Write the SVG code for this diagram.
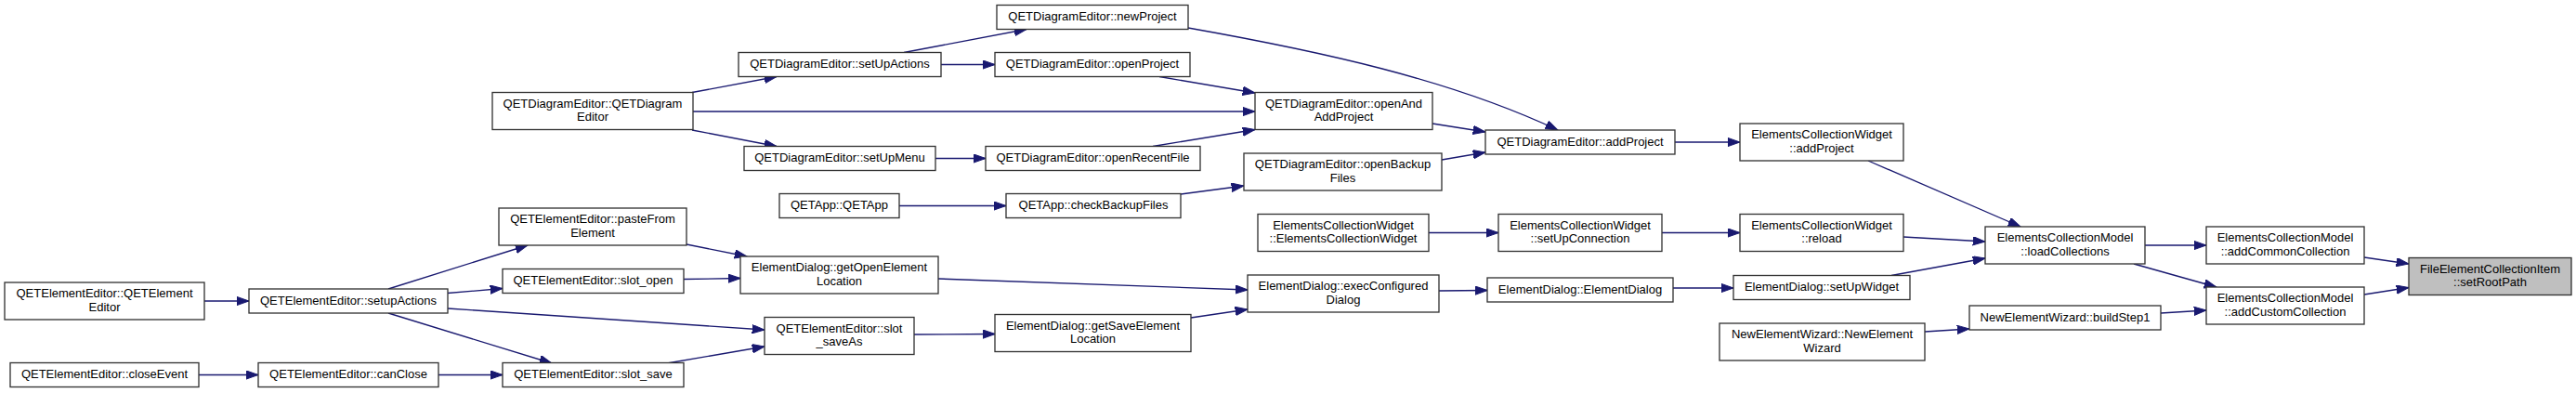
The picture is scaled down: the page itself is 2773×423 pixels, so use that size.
<svg xmlns="http://www.w3.org/2000/svg" width="2773" height="423" viewBox="0 0 2773 423">
<style>
.n rect{fill:#fff;stroke:#333;stroke-width:1.33}
.root rect{fill:#bfbfbf}
.n text{font-family:"Liberation Sans",Arial,sans-serif;font-size:13px;fill:#000;text-anchor:middle}
.e path{fill:none;stroke:#191970;stroke-width:1.33;marker-end:url(#arr)}
</style>
<defs>
<marker id="arr" markerUnits="userSpaceOnUse" markerWidth="14" markerHeight="10" refX="13.3" refY="4.7" orient="auto" viewBox="0 0 14 10">
<path d="M0,0 L13.3,4.7 L0,9.4 z" fill="#191970" stroke="#191970" stroke-width="1"/>
</marker>
</defs>
<rect width="2773" height="423" fill="#fff"/>
<g id="connectors" class="e">
<path d="M745,99.5 L836,82.5"/>
<path d="M745,140 L836,157.5"/>
<path d="M746,120 L1351,120"/>
<path d="M973,56.5 L1105,31.5"/>
<path d="M1013,69.5 L1071,69.5"/>
<path d="M1007,170.5 L1061,170.5"/>
<path d="M1279,30 C1420,55 1560,85 1677,140"/>
<path d="M1248,82.5 L1351,100"/>
<path d="M1241,157.5 L1351,139.5"/>
<path d="M1542,133 L1599,142"/>
<path d="M1552,172 L1599,164"/>
<path d="M1803,153 L1873,153"/>
<path d="M968,221.5 L1083,221.5"/>
<path d="M1271,209 L1339,200"/>
<path d="M2011,173 L2175,244"/>
<path d="M1538,250.5 L1613,250.5"/>
<path d="M1789,250.5 L1873,250.5"/>
<path d="M2049,255 L2137,260"/>
<path d="M2036,296.5 L2137,278"/>
<path d="M1801,310 L1866,310"/>
<path d="M1549,313 L1601,312.5"/>
<path d="M1010,300 L1343,312"/>
<path d="M1282,342 L1343,333"/>
<path d="M984,360 L1071,359.5"/>
<path d="M739,263 L804,276"/>
<path d="M736,300.5 L797,299.5"/>
<path d="M418,311 L568,264"/>
<path d="M482,315.5 L541,310.5"/>
<path d="M482,332 L823,355"/>
<path d="M418,337 L594,391"/>
<path d="M220,324 L268,324"/>
<path d="M214,403.5 L278,403.5"/>
<path d="M472,403.5 L541,403.5"/>
<path d="M718,391 L823,373"/>
<path d="M2309,264 L2375,264"/>
<path d="M2297,284 L2386,309"/>
<path d="M2326,337 L2375,334"/>
<path d="M2072,357 L2120,354"/>
<path d="M2545,277 L2593,284"/>
<path d="M2545,317 L2593,309.5"/>
</g>
<g id="n1" class="n"><rect x="530" y="99.5" width="216" height="40"/><text x="638" y="115.8">QETDiagramEditor::QETDiagram</text><text x="638" y="130.3">Editor</text></g>
<g id="n2" class="n"><rect x="795" y="56.5" width="218" height="26"/><text x="904" y="73">QETDiagramEditor::setUpActions</text></g>
<g id="n3" class="n"><rect x="801" y="157.5" width="206" height="26"/><text x="904" y="174">QETDiagramEditor::setUpMenu</text></g>
<g id="n4" class="n"><rect x="1073" y="5.5" width="206" height="26"/><text x="1176" y="22">QETDiagramEditor::newProject</text></g>
<g id="n5" class="n"><rect x="1071" y="56.5" width="210" height="26"/><text x="1176" y="73">QETDiagramEditor::openProject</text></g>
<g id="n6" class="n"><rect x="1061" y="157.5" width="231" height="26"/><text x="1176.5" y="174">QETDiagramEditor::openRecentFile</text></g>
<g id="n7" class="n"><rect x="1351" y="99.5" width="191" height="40"/><text x="1446.5" y="115.8">QETDiagramEditor::openAnd</text><text x="1446.5" y="130.3">AddProject</text></g>
<g id="n8" class="n"><rect x="1339" y="165" width="213" height="40"/><text x="1445.5" y="181.3">QETDiagramEditor::openBackup</text><text x="1445.5" y="195.8">Files</text></g>
<g id="n9" class="n"><rect x="1599" y="140" width="204" height="26"/><text x="1701" y="156.5">QETDiagramEditor::addProject</text></g>
<g id="n10" class="n"><rect x="1873" y="133" width="176" height="40"/><text x="1961" y="149.3">ElementsCollectionWidget</text><text x="1961" y="163.8">::addProject</text></g>
<g id="n11" class="n"><rect x="839" y="208.5" width="129" height="26"/><text x="903.5" y="225">QETApp::QETApp</text></g>
<g id="n12" class="n"><rect x="1083" y="208.5" width="188" height="26"/><text x="1177" y="225">QETApp::checkBackupFiles</text></g>
<g id="n13" class="n"><rect x="1354" y="230.5" width="184" height="40"/><text x="1446" y="246.8">ElementsCollectionWidget</text><text x="1446" y="261.3">::ElementsCollectionWidget</text></g>
<g id="n14" class="n"><rect x="1613" y="230.5" width="176" height="40"/><text x="1701" y="246.8">ElementsCollectionWidget</text><text x="1701" y="261.3">::setUpConnection</text></g>
<g id="n15" class="n"><rect x="1873" y="230.5" width="176" height="40"/><text x="1961" y="246.8">ElementsCollectionWidget</text><text x="1961" y="261.3">::reload</text></g>
<g id="n16" class="n"><rect x="2137" y="244" width="172" height="40"/><text x="2223" y="260.3">ElementsCollectionModel</text><text x="2223" y="274.8">::loadCollections</text></g>
<g id="n17" class="n"><rect x="2375" y="244" width="170" height="40"/><text x="2460" y="260.3">ElementsCollectionModel</text><text x="2460" y="274.8">::addCommonCollection</text></g>
<g id="n18" class="n"><rect x="2375" y="309" width="170" height="40"/><text x="2460" y="325.3">ElementsCollectionModel</text><text x="2460" y="339.8">::addCustomCollection</text></g>
<g id="n19" class="n root"><rect x="2593" y="277.5" width="175" height="40"/><text x="2680.5" y="293.8">FileElementCollectionItem</text><text x="2680.5" y="308.3">::setRootPath</text></g>
<g id="n20" class="n"><rect x="2120" y="329" width="206" height="26"/><text x="2223" y="345.5">NewElementWizard::buildStep1</text></g>
<g id="n21" class="n"><rect x="1851" y="348" width="221" height="40"/><text x="1961.5" y="364.3">NewElementWizard::NewElement</text><text x="1961.5" y="378.8">Wizard</text></g>
<g id="n22" class="n"><rect x="1866" y="296.5" width="190" height="26"/><text x="1961" y="313">ElementDialog::setUpWidget</text></g>
<g id="n23" class="n"><rect x="1601" y="299" width="200" height="26"/><text x="1701" y="315.5">ElementDialog::ElementDialog</text></g>
<g id="n24" class="n"><rect x="1343" y="296" width="206" height="40"/><text x="1446" y="312.3">ElementDialog::execConfigured</text><text x="1446" y="326.8">Dialog</text></g>
<g id="n25" class="n"><rect x="1071" y="338.5" width="211" height="40"/><text x="1176.5" y="354.8">ElementDialog::getSaveElement</text><text x="1176.5" y="369.3">Location</text></g>
<g id="n26" class="n"><rect x="797" y="276" width="213" height="40"/><text x="903.5" y="292.3">ElementDialog::getOpenElement</text><text x="903.5" y="306.8">Location</text></g>
<g id="n27" class="n"><rect x="823" y="341.5" width="161" height="40"/><text x="903.5" y="357.8">QETElementEditor::slot</text><text x="903.5" y="372.3">_saveAs</text></g>
<g id="n28" class="n"><rect x="537" y="224" width="202" height="40"/><text x="638" y="240.3">QETElementEditor::pasteFrom</text><text x="638" y="254.8">Element</text></g>
<g id="n29" class="n"><rect x="541" y="289.5" width="195" height="26"/><text x="638.5" y="306">QETElementEditor::slot_open</text></g>
<g id="n30" class="n"><rect x="541" y="390.5" width="195" height="26"/><text x="638.5" y="407">QETElementEditor::slot_save</text></g>
<g id="n31" class="n"><rect x="268" y="311" width="214" height="26"/><text x="375" y="327.5">QETElementEditor::setupActions</text></g>
<g id="n32" class="n"><rect x="5" y="304" width="215" height="40"/><text x="112.5" y="320.3">QETElementEditor::QETElement</text><text x="112.5" y="334.8">Editor</text></g>
<g id="n33" class="n"><rect x="11" y="390.5" width="203" height="26"/><text x="112.5" y="407">QETElementEditor::closeEvent</text></g>
<g id="n34" class="n"><rect x="278" y="390.5" width="194" height="26"/><text x="375" y="407">QETElementEditor::canClose</text></g>
</svg>
